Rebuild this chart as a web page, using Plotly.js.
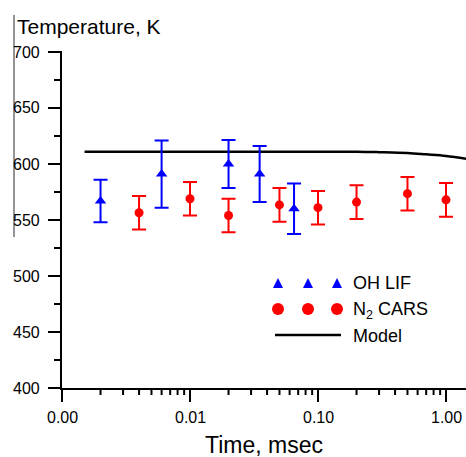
<!DOCTYPE html>
<html>
<head>
<meta charset="utf-8">
<script src="https://cdn.plot.ly/plotly-3.0.1.min.js"></script>
<style>html,body{margin:0;padding:0;background:#fff;}#chart{width:466px;height:457px;}</style>
</head>
<body>
<div id="chart"></div>
<script>
// OH LIF (blue triangles)
const lifTime = [0.002, 0.006, 0.02, 0.035, 0.065];
const lifTemp = [567, 591, 600, 591, 560];
const lifErr  = [19, 30, 21.5, 25, 22.5];
// N2 CARS (red circles)
const carsTime = [0.004, 0.01, 0.02, 0.05, 0.1, 0.2, 0.5, 1.0];
const carsTemp = [556.5, 569, 554, 563.5, 561, 566, 573.5, 568];
const carsErr  = [15, 15, 15, 15, 15, 15, 15, 15];
// Model (black line)
const modelTime = [0.0015, 0.01, 0.1, 0.2, 0.3, 0.5, 0.7, 1.0, 1.45];
const modelTemp = [611, 611, 611, 611, 610.6, 609.8, 608.6, 607.2, 604.6];
// Axis ticks
const xTickVals = [0.001, 0.01, 0.1, 1];
const xTickText = ["0.00", "0.01", "0.10", "1.00"];
const xMinorMult = [2, 3, 4, 5, 6, 7, 8, 9];
const yTickVals = [400, 450, 500, 550, 600, 650, 700];
const yMinorVals = [425, 475, 525, 575, 625, 675];

const FONT = "Liberation Sans, Arial, sans-serif";
const BLUE = "#0000ff", RED = "#ff0000";

const traces = [
  {x: modelTime, y: modelTemp, type: "scatter", mode: "lines",
   line: {color: "#000", width: 2.5, shape: "spline"}, name: "Model", showlegend: false},
  {x: lifTime, y: lifTemp, type: "scatter", mode: "markers", name: "OH LIF", showlegend: false,
   marker: {symbol: "triangle-up", size: 10, color: BLUE},
   error_y: {type: "data", array: lifErr, visible: true, color: BLUE, thickness: 2, width: 7}},
  {x: carsTime, y: carsTemp, type: "scatter", mode: "markers", name: "N2 CARS", showlegend: false,
   marker: {symbol: "circle", size: 9, color: RED},
   error_y: {type: "data", array: carsErr, visible: true, color: RED, thickness: 2, width: 7}}
];

// plot-area geometry
const L = 62, T = 52, W = 404, H = 336;
const px = v => (v - L) / W;          // page pixel -> paper x
const py = v => (T + H - v) / H;      // page pixel -> paper y
const xRange = [Math.log10(xTickVals[0]), Math.log10(xTickVals[0]) + W / 128];
const yRange = [yTickVals[0], yTickVals[yTickVals.length - 1]];
const xPaper = v => (Math.log10(v) - xRange[0]) / (xRange[1] - xRange[0]);
const yPaper = v => (v - yRange[0]) / (yRange[1] - yRange[0]);

const shapes = [];
const annotations = [];
const tickLine = {color: "#000", width: 2};

// x ticks and labels
xTickVals.forEach((v, i) => {
  shapes.push({type: "line", xref: "paper", yref: "paper", x0: xPaper(v), x1: xPaper(v), y0: 0, y1: -14 / H, line: tickLine});
  annotations.push({text: xTickText[i], xref: "paper", yref: "paper", x: xPaper(v), y: py(417),
    xanchor: "center", yanchor: "middle", showarrow: false, font: {family: FONT, size: 16, color: "#000"}});
});
xTickVals.slice(0, 3).forEach(d => xMinorMult.forEach(k => {
  const xp = xPaper(d * k);
  shapes.push({type: "line", xref: "paper", yref: "paper", x0: xp, x1: xp, y0: 0, y1: -7 / H, line: tickLine});
}));
// y ticks and labels
yTickVals.forEach(v => {
  shapes.push({type: "line", xref: "paper", yref: "paper", x0: -14 / W, x1: 0, y0: yPaper(v), y1: yPaper(v), line: tickLine});
  annotations.push({text: String(v), xref: "paper", yref: "paper", x: px(42), y: yPaper(v),
    xanchor: "right", yanchor: "middle", showarrow: false, font: {family: FONT, size: 16, color: "#000"}});
});
yMinorVals.forEach(v => {
  shapes.push({type: "line", xref: "paper", yref: "paper", x0: -8 / W, x1: 0, y0: yPaper(v), y1: yPaper(v), line: tickLine});
});

// hand-built legend
const legX = [278, 308, 337];
legX.forEach(cx => {
  shapes.push({type: "path", xref: "paper", yref: "paper",
    path: `M ${px(cx-5)} ${py(288)} L ${px(cx+5)} ${py(288)} L ${px(cx)} ${py(278)} Z`,
    fillcolor: BLUE, line: {width: 0}});
  shapes.push({type: "circle", xref: "paper", yref: "paper",
    x0: px(cx-6), x1: px(cx+6), y0: py(315), y1: py(303),
    fillcolor: RED, line: {width: 0}});
});
shapes.push({type: "line", xref: "paper", yref: "paper",
  x0: px(275), x1: px(341), y0: py(335), y1: py(335), line: {color: "#000", width: 2.5}});
// grey edge line at far left
shapes.push({type: "line", xref: "paper", yref: "paper",
  x0: px(14), x1: px(14), y0: py(15), y1: py(237), line: {color: "#707070", width: 1.5}});

annotations.push(
  {text: "Temperature, K", xref: "paper", yref: "paper", x: px(15), y: py(26),
   xanchor: "left", yanchor: "middle", showarrow: false, font: {family: FONT, size: 21, color: "#000"}},
  {text: "OH LIF", xref: "paper", yref: "paper", x: px(351), y: py(283),
   xanchor: "left", yanchor: "middle", showarrow: false, font: {family: FONT, size: 18, color: "#000"}},
  {text: "N<sub>2</sub> CARS", xref: "paper", yref: "paper", x: px(351), y: py(310),
   xanchor: "left", yanchor: "middle", showarrow: false, font: {family: FONT, size: 18, color: "#000"}},
  {text: "Model", xref: "paper", yref: "paper", x: px(351), y: py(336),
   xanchor: "left", yanchor: "middle", showarrow: false, font: {family: FONT, size: 18, color: "#000"}},
  {text: "Time, msec", xref: "paper", yref: "paper", x: 0.5, y: py(445),
   xanchor: "center", yanchor: "middle", showarrow: false, font: {family: FONT, size: 23, color: "#000"}}
);

const layout = {
  width: 466, height: 457,
  margin: {l: L, r: 0, t: T, b: 457 - T - H},
  paper_bgcolor: "#fff", plot_bgcolor: "#fff",
  font: {family: FONT, size: 16, color: "#000"},
  showlegend: false,
  xaxis: {type: "log", range: xRange, showticklabels: false, ticks: "",
          showline: true, linecolor: "#000", linewidth: 2, showgrid: false, zeroline: false},
  yaxis: {range: yRange, showticklabels: false, ticks: "",
          showline: true, linecolor: "#000", linewidth: 2, showgrid: false, zeroline: false},
  shapes: shapes,
  annotations: annotations
};

Plotly.newPlot("chart", traces, layout, {displayModeBar: false, staticPlot: true});
</script>
</body>
</html>
